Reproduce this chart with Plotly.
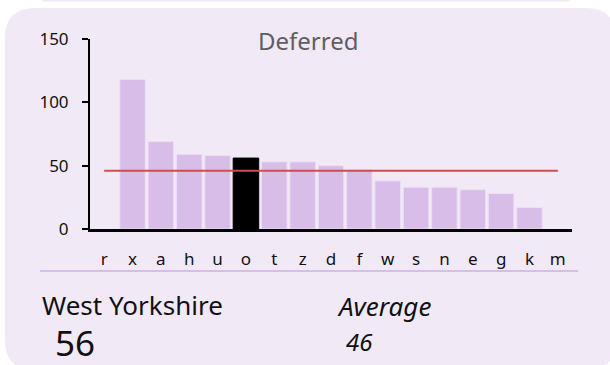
import plotly.graph_objects as go

# Deferred counts by area (single-letter codes), highlighted area and average
categories = ["r", "x", "a", "h", "u", "o", "t", "z", "d", "f", "w", "s", "n", "e", "g", "k", "m"]
values = [None, 118, 69, 59, 58, 56, 53, 53, 50, 47, 38, 33, 33, 31, 28, 17, None]
highlight = "o"
area_name = "West Yorkshire"
area_value = 56
average = 46
title_text = "Deferred"
y_ticks = [0, 50, 100, 150]

W, H = 610, 365
ML, MR, MT, MB = 90, 38, 39, 136
PW, PH = W - ML - MR, H - MT - MB


def px(x):
    return (x - ML) / PW


def py(y):
    return (H - MB - y) / PH


def rounded_rect(x0, y0, x1, y1, r):
    # path in paper coordinates built from pixel corners
    rx, ry = r / PW, r / PH
    a, b, c, d = px(x0), py(y0), px(x1), py(y1)
    return (f"M {a + rx},{b} L {c - rx},{b} Q {c},{b} {c},{b - ry} "
            f"L {c},{d + ry} Q {c},{d} {c - rx},{d} L {a + rx},{d} "
            f"Q {a},{d} {a},{d + ry} L {a},{b - ry} Q {a},{b} {a + rx},{b} Z")


bar_colors = ["#000000" if c == highlight else "#d9bde9" for c in categories]
line_colors = ["#000000" if c == highlight else "#ecdff4" for c in categories]

FONT = "Noto Sans"

fig = go.Figure()
fig.add_trace(go.Bar(
    x=categories, y=values,
    marker=dict(color=bar_colors, line=dict(color=line_colors, width=1)),
    hoverinfo="x+y",
))
fig.add_trace(go.Scatter(
    x=categories, y=[average] * len(categories),
    mode="lines", line=dict(color="#c9504d", width=2),
    hoverinfo="skip",
))

shapes = [
    dict(type="path", xref="paper", yref="paper",
         path=rounded_rect(5, 8, 616, 370, 30),
         fillcolor="#f2e9f7", line=dict(width=0), layer="below"),
    dict(type="path", xref="paper", yref="paper",
         path=rounded_rect(40, -20, 572, 1.8, 6),
         fillcolor="#f2e9f7", line=dict(width=0), layer="below"),
    dict(type="line", xref="paper", yref="paper",
         x0=px(40), x1=px(578), y0=py(271), y1=py(271),
         line=dict(color="#d9bde9", width=2)),
]

annotations = [
    dict(text=title_text, x=px(308), y=py(40), xref="paper", yref="paper",
         showarrow=False, font=dict(family=FONT, size=24, color="#5f5f5f"),
         xanchor="center", yanchor="middle"),
    dict(text=area_name, x=px(40), y=py(305), xref="paper", yref="paper",
         showarrow=False, font=dict(family=FONT, size=26, color="#111111"),
         xanchor="left", yanchor="middle"),
    dict(text=str(area_value), x=px(53), y=py(342), xref="paper", yref="paper",
         showarrow=False, font=dict(family=FONT, size=35, color="#111111"),
         xanchor="left", yanchor="middle"),
    dict(text="<i>Average</i>", x=px(335), y=py(306), xref="paper", yref="paper",
         showarrow=False, font=dict(family=FONT, size=26, color="#111111"),
         xanchor="left", yanchor="middle"),
    dict(text=f"<i>{average}</i>", x=px(344), y=py(341), xref="paper", yref="paper",
         showarrow=False, font=dict(family=FONT, size=24, color="#111111"),
         xanchor="left", yanchor="middle"),
]

fig.update_layout(
    width=W, height=H,
    margin=dict(l=ML, r=MR, t=MT, b=MB, pad=0),
    paper_bgcolor="#ffffff",
    plot_bgcolor="rgba(0,0,0,0)",
    showlegend=False,
    bargap=0.1,
    shapes=shapes,
    annotations=annotations,
    xaxis=dict(
        type="category", categoryorder="array", categoryarray=categories,
        showline=True, linecolor="#000000", linewidth=2.5,
        ticks="", showgrid=False, zeroline=False,
        tickfont=dict(family=FONT, size=17, color="#111111"),
        ticklabelstandoff=13,
    ),
    yaxis=dict(
        range=[0, 150], tickvals=y_ticks,
        showline=True, linecolor="#000000", linewidth=2,
        ticks="outside", ticklen=6, tickwidth=1.5, tickcolor="#000000",
        showgrid=False, zeroline=False,
        tickfont=dict(family=FONT, size=17, color="#111111"),
        ticklabelstandoff=10,
    ),
)

fig.write_html("out.html")
